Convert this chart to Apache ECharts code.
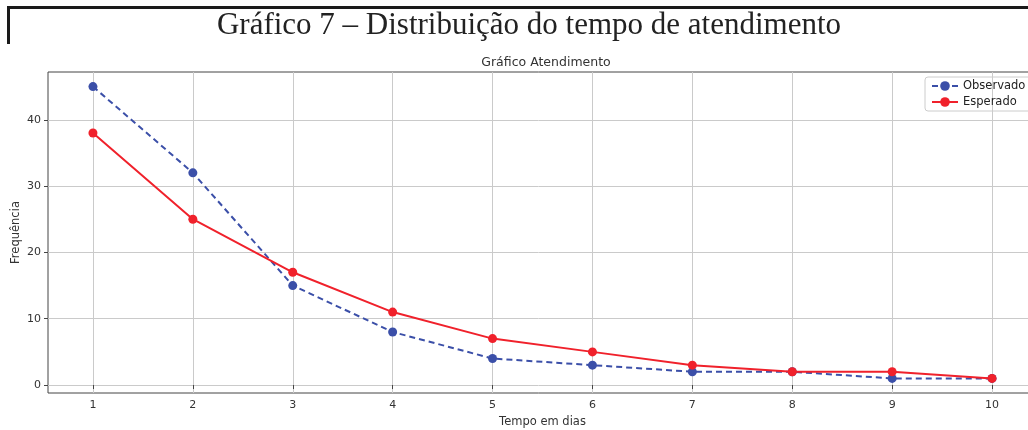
<!DOCTYPE html>
<html>
<head>
<meta charset="utf-8">
<script src="https://cdn.jsdelivr.net/npm/echarts@6/dist/echarts.min.js"></script>
<style>
  html, body { margin: 0; padding: 0; background: #fff; }
  #chart { width: 1028px; height: 430px; }
</style>
</head>
<body>
<div id="chart"></div>
<script>
// Tempo de atendimento (dias) e frequências observadas / esperadas
const dias = [1, 2, 3, 4, 5, 6, 7, 8, 9, 10];
const observado = [45, 32, 15, 8, 4, 3, 2, 2, 1, 1];
const esperado = [38, 25, 17, 11, 7, 5, 3, 2, 2, 1];
const yTicks = [0, 10, 20, 30, 40];

const chart = echarts.init(document.getElementById('chart'), null, { renderer: 'canvas' });

const axisFont = { fontFamily: 'DejaVu Sans', fontSize: 11, color: '#333' };

chart.setOption({
  animation: false,
  title: [
    {
      text: 'Gráfico 7 – Distribuição do tempo de atendimento',
      left: 524, top: 5, textAlign: 'center',
      textStyle: { fontFamily: 'Liberation Serif', fontWeight: 'normal', fontSize: 31, color: '#222' }
    },
    {
      text: 'Gráfico Atendimento',
      left: 541, top: 51, textAlign: 'center',
      textStyle: { fontFamily: 'DejaVu Sans', fontWeight: 'normal', fontSize: 12.5, color: '#333' }
    }
  ],
  legend: {
    left: 925, top: 77, orient: 'vertical',
    itemGap: 4, itemWidth: 26, itemHeight: 12,
    padding: [3, 20, 3, 6],
    borderColor: '#ccc', borderWidth: 1, borderRadius: 3,
    textStyle: { fontFamily: 'DejaVu Sans', fontSize: 11.5, color: '#222' },
    data: ['Observado', 'Esperado']
  },
  grid: {
    left: 48, top: 72, width: 989, bottom: 37,
    outerBoundsMode: 'none', containLabel: false,
    show: true, borderColor: '#444', borderWidth: 1
  },
  xAxis: {
    type: 'value', min: 0.55, max: 10.45,
    name: 'Tempo em dias', nameLocation: 'middle', nameGap: 23, nameMoveOverlap: false,
    nameTextStyle: { fontFamily: 'DejaVu Sans', fontSize: 11.5, color: '#333' },
    axisLine: { show: false },
    axisTick: { show: true, inside: false, length: 4, customValues: dias, lineStyle: { color: '#444' } },
    axisLabel: { customValues: dias, margin: 7, ...axisFont },
    splitLine: { show: true, lineStyle: { color: '#cacaca', width: 1 } }
  },
  yAxis: {
    type: 'value', min: -1.2, max: 47.2,
    name: 'Frequência', nameLocation: 'middle', nameGap: 26, nameRotate: 90, nameMoveOverlap: false,
    nameTextStyle: { fontFamily: 'DejaVu Sans', fontSize: 11.5, color: '#333' },
    axisLine: { show: false },
    axisTick: { show: true, inside: false, length: 4, customValues: yTicks, lineStyle: { color: '#444' } },
    axisLabel: { customValues: yTicks, margin: 7, ...axisFont },
    splitLine: { show: true, lineStyle: { color: '#cacaca', width: 1 } }
  },
  series: [
    {
      name: 'Observado', type: 'line',
      data: dias.map((d, i) => [d, observado[i]]),
      symbol: 'circle', symbolSize: 9,
      itemStyle: { color: '#3b4fa8' },
      lineStyle: { color: '#3b4fa8', width: 2, type: [6, 4] },
      z: 3
    },
    {
      name: 'Esperado', type: 'line',
      data: dias.map((d, i) => [d, esperado[i]]),
      symbol: 'circle', symbolSize: 9,
      itemStyle: { color: '#f0212b' },
      lineStyle: { color: '#f0212b', width: 2 },
      z: 4
    }
  ],
  graphic: [
    { type: 'rect', shape: { x: 7, y: 6, width: 1021, height: 3 }, style: { fill: '#1a1a1a' } },
    { type: 'rect', shape: { x: 7, y: 6, width: 3, height: 38 }, style: { fill: '#1a1a1a' } }
  ]
});
</script>
</body>
</html>
